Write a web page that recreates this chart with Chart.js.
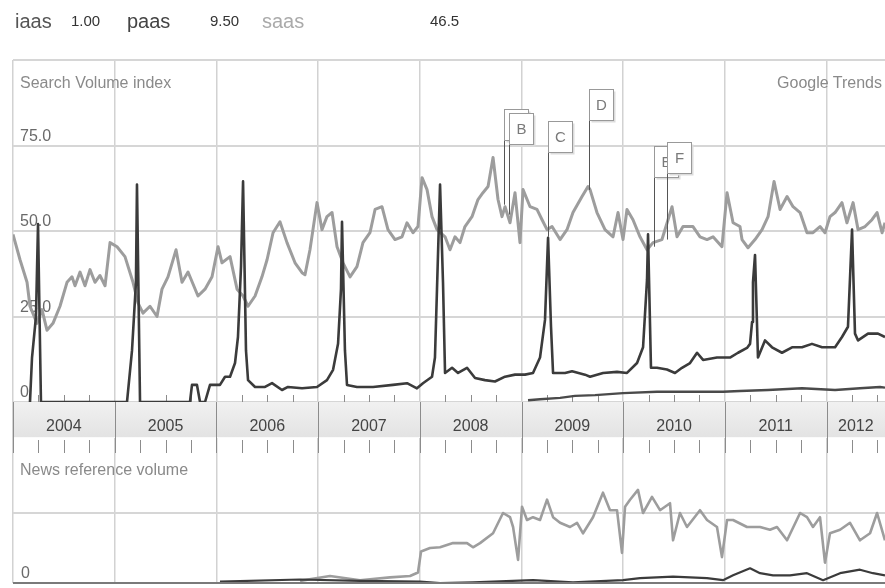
<!DOCTYPE html>
<html><head><meta charset="utf-8">
<script src="https://cdn.jsdelivr.net/npm/chart.js@4.4.1/dist/chart.umd.min.js"></script>
<style>
html,body{margin:0;padding:0;background:#fff;}
#wrap{position:relative;width:885px;height:588px;overflow:hidden;font-family:"Liberation Sans",Arial,sans-serif;}
#c{position:absolute;left:0;top:0;}
.t{position:absolute;white-space:nowrap;line-height:1;}
</style></head><body>
<div id="wrap">
<canvas id="c" width="885" height="588"></canvas>
<div id="hdr"></div>
<div class="t" style="left:20px;top:75px;font-size:16px;color:#8a8a8a">Search Volume index</div>
<div class="t" style="right:3px;top:75px;font-size:16px;color:#8a8a8a">Google Trends</div>
<div class="t" style="left:20px;top:462px;font-size:16px;color:#8a8a8a">News reference volume</div>
</div>
<script>
// ---------- DATA ----------
const headerTerms = ['iaas', 'paas', 'saas'];
const headerValues = ['1.00', '9.50', '46.5'];

const yearTicks = [2004, 2005, 2006, 2007, 2008, 2009, 2010, 2011, 2012];
const yearLabels = ['2004', '2005', '2006', '2007', '2008', '2009', '2010', '2011', '2012'];
const xMin = 2004.0, xMax = 2012.574;

const yTickValues = [0, 25, 50, 75];
const yTickLabels = ['0', '25.0', '50.0', '75.0'];
const newsTickValues = [0];
const newsTickLabels = ['0'];

const saasDates = [
 2004.000, 2004.069, 2004.138, 2004.167, 2004.236, 2004.285, 2004.334, 2004.393, 2004.462, 2004.531,
 2004.580, 2004.610, 2004.659, 2004.708, 2004.757, 2004.806, 2004.855, 2004.905, 2004.954, 2005.023,
 2005.101, 2005.180, 2005.229, 2005.278, 2005.347, 2005.416, 2005.465, 2005.524, 2005.603, 2005.662,
 2005.721, 2005.819, 2005.888, 2005.957, 2006.016, 2006.055, 2006.134, 2006.203, 2006.262, 2006.311,
 2006.380, 2006.448, 2006.498, 2006.557, 2006.625, 2006.694, 2006.773, 2006.842, 2006.871, 2006.920,
 2006.989, 2007.038, 2007.087, 2007.137, 2007.186, 2007.245, 2007.314, 2007.382, 2007.441, 2007.510,
 2007.560, 2007.628, 2007.687, 2007.756, 2007.825, 2007.874, 2007.933, 2007.982, 2008.022, 2008.071,
 2008.120, 2008.169, 2008.248, 2008.297, 2008.346, 2008.395, 2008.444, 2008.513, 2008.572, 2008.621,
 2008.671, 2008.720, 2008.769, 2008.808, 2008.838, 2008.887, 2008.936, 2008.985, 2009.015, 2009.084,
 2009.152, 2009.202, 2009.251, 2009.300, 2009.379, 2009.447, 2009.506, 2009.595, 2009.654, 2009.674,
 2009.742, 2009.821, 2009.900, 2009.949, 2009.998, 2010.037, 2010.096, 2010.165, 2010.234, 2010.293,
 2010.381, 2010.480, 2010.529, 2010.588, 2010.686, 2010.755, 2010.824, 2010.883, 2010.971, 2011.021,
 2011.080, 2011.148, 2011.168, 2011.227, 2011.296, 2011.365, 2011.424, 2011.483, 2011.542, 2011.611,
 2011.670, 2011.739, 2011.807, 2011.866, 2011.935, 2011.984, 2012.033, 2012.083, 2012.151, 2012.200,
 2012.260, 2012.309, 2012.378, 2012.446, 2012.496, 2012.545, 2012.574
];
const saasValues = [
 49, 41.6, 35, 28, 23, 27, 21, 23, 28, 35,
 36.6, 34, 38, 34, 38.7, 35, 37, 34, 46.6, 45.4,
 42.5, 35, 29, 26, 28, 25, 33, 36.6, 44.5, 35,
 38, 31, 33, 36.6, 45.4, 40.7, 42.5, 33, 31, 28,
 31, 36.6, 41.6, 49.5, 52.7, 46.6, 40.7, 37.8, 37.2, 44.5,
 58.3, 50.4, 54.2, 55.4, 45.4, 40.7, 36.6, 39.6, 46.6, 49.5,
 56.3, 57.1, 50.4, 47.5, 48.3, 52.4, 49.5, 51.3, 65.6, 62.1,
 54.2, 50.4, 48.3, 44.5, 48.3, 46.6, 51.3, 54.2, 59.2, 61.2,
 63, 71.5, 59.2, 54.2, 57.1, 52.4, 61.2, 46.6, 62.1, 57.1,
 56.3, 53.3, 50.4, 51.3, 47.5, 50.4, 55.4, 60.1, 63, 62.1,
 55.4, 50.4, 48.3, 55.4, 47.5, 56.3, 53.3, 48.3, 44.5, 46.6,
 47.5, 57.1, 48.3, 51.3, 51.3, 48.3, 47.5, 48.3, 45.4, 61.2,
 52.4, 51.3, 47.5, 45.1, 47.5, 50.4, 54.2, 64.5, 56.3, 60.1,
 57.1, 55.4, 49.5, 49.5, 51.3, 49.5, 54.2, 55.4, 58.3, 52.4,
 58.3, 50.4, 51.3, 53.3, 55.4, 49.5, 52.4
];

const paasDates = [
 2004.167, 2004.187, 2004.226, 2004.246, 2004.275, 2005.121, 2005.170, 2005.209, 2005.219, 2005.249,
 2005.740, 2005.760, 2005.809, 2005.839, 2005.888, 2005.937, 2006.035, 2006.085, 2006.134, 2006.183,
 2006.212, 2006.242, 2006.262, 2006.291, 2006.311, 2006.380, 2006.478, 2006.547, 2006.645, 2006.704,
 2006.842, 2006.989, 2007.087, 2007.147, 2007.196, 2007.225, 2007.235, 2007.264, 2007.284, 2007.382,
 2007.540, 2007.736, 2007.874, 2007.972, 2008.031, 2008.120, 2008.149, 2008.169, 2008.199, 2008.228,
 2008.248, 2008.317, 2008.376, 2008.464, 2008.543, 2008.641, 2008.739, 2008.838, 2008.936, 2009.034,
 2009.113, 2009.182, 2009.231, 2009.261, 2009.290, 2009.310, 2009.428, 2009.497, 2009.624, 2009.674,
 2009.802, 2009.939, 2010.037, 2010.136, 2010.195, 2010.234, 2010.244, 2010.273, 2010.332, 2010.430,
 2010.509, 2010.578, 2010.657, 2010.726, 2010.785, 2010.922, 2011.050, 2011.129, 2011.217, 2011.247,
 2011.267, 2011.276, 2011.296, 2011.325, 2011.394, 2011.463, 2011.561, 2011.660, 2011.758, 2011.856,
 2011.955, 2012.083, 2012.151, 2012.210, 2012.250, 2012.279, 2012.309, 2012.407, 2012.505, 2012.574
];
const paasValues = [
 0, 13, 25, 52, 0, 0, 15, 35, 63.6, 0,
 0, 5, 5, 0, 0, 5, 5, 7.4, 7.4, 11.4,
 19, 39.6, 64.5, 15, 6.4, 4.4, 4.4, 5.5, 3.5, 4.4,
 4, 4.4, 6.4, 9.4, 17, 33, 52.7, 15, 5, 4.4,
 4.4, 5, 5.5, 4, 5.5, 7.4, 13, 33, 63.6, 35,
 8.5, 10, 8.5, 10, 7, 6.4, 6, 7.4, 8, 8,
 8.5, 13, 24, 48, 22, 8.5, 8.5, 9, 8, 7.4,
 8.5, 8.8, 8.5, 11.4, 16, 35.7, 49, 10, 10, 9.5,
 8.5, 10, 11.4, 14.4, 12.3, 13, 13, 14.4, 15.8, 17,
 23.4, 35, 43, 13, 18, 16, 14.4, 16, 16, 17,
 16, 16, 19, 22, 50.4, 20, 18, 20, 20, 19
];

const iaasDates = [2009.064, 2009.182, 2009.379, 2009.526, 2009.723, 2009.998, 2010.332, 2010.657,
 2010.981, 2011.148, 2011.424, 2011.758, 2012.083, 2012.328, 2012.525, 2012.574];
const iaasValues = [0.5, 0.8, 1.2, 1.8, 2, 2.6, 3, 3, 3, 3.2, 3.5, 4, 3.5, 4, 4.4, 4.2];

const newsSaasDates = [
 2006.822, 2007.117, 2007.412, 2007.707, 2007.904, 2007.982, 2008.012, 2008.100, 2008.199, 2008.326,
 2008.464, 2008.523, 2008.592, 2008.720, 2008.818, 2008.887, 2008.917, 2008.966, 2009.005, 2009.054,
 2009.113, 2009.182, 2009.251, 2009.310, 2009.379, 2009.477, 2009.546, 2009.605, 2009.703, 2009.801,
 2009.870, 2009.939, 2009.988, 2010.018, 2010.067, 2010.145, 2010.195, 2010.283, 2010.362, 2010.460,
 2010.490, 2010.558, 2010.627, 2010.755, 2010.824, 2010.922, 2010.971, 2011.021, 2011.080, 2011.217,
 2011.345, 2011.443, 2011.512, 2011.611, 2011.739, 2011.807, 2011.866, 2011.935, 2011.984, 2012.033,
 2012.132, 2012.230, 2012.328, 2012.427, 2012.496, 2012.574
];
const newsSaasValues = [
 0.03, 0.1, 0.04, 0.08, 0.1, 0.15, 0.45, 0.5, 0.51, 0.57,
 0.57, 0.51, 0.57, 0.71, 1.0, 0.94, 0.8, 0.33, 1.09, 0.9,
 0.94, 0.9, 1.19, 0.94, 0.86, 0.8, 0.86, 0.71, 0.94, 1.29,
 1.04, 1.04, 0.43, 1.09, 1.19, 1.33, 1.0, 1.23, 1.04, 1.14,
 0.61, 1.0, 0.8, 1.04, 0.9, 0.8, 0.37, 0.9, 0.9, 0.8,
 0.8, 0.76, 0.8, 0.61, 1.0, 0.94, 0.8, 0.94, 0.29, 0.71,
 0.76, 0.86, 0.61, 0.71, 1.0, 0.61
];

const newsPaasDates = [2006.035, 2006.822, 2007.412, 2008.002, 2008.199, 2008.523, 2009.113, 2009.506,
 2009.998, 2010.165, 2010.490, 2010.824, 2010.981, 2011.080, 2011.247, 2011.345, 2011.473, 2011.640,
 2011.807, 2011.965, 2012.132, 2012.328, 2012.456, 2012.574];
const newsPaasValues = [0.02, 0.05, 0.03, 0.02, 0, 0.01, 0.04, 0.01, 0.04, 0.07, 0.09, 0.07, 0.04,
 0.11, 0.21, 0.14, 0.11, 0.11, 0.14, 0.04, 0.14, 0.19, 0.14, 0.11];

const flagLabels = ['A', 'B', 'C', 'D', 'E', 'F'];
const flagDates = [2008.828, 2008.877, 2009.260, 2009.664, 2010.303, 2010.430];
const flagValues = [57.7, 54.8, 48.3, 62.0, 45.4, 47.5];

// ---------- STYLE / LAYOUT ----------
const HEADER_LAYOUT = [
  {termX: 15, valX: 71, color: '#555'},
  {termX: 127, valX: 210, color: '#444'},
  {termX: 262, valX: 430, color: '#aaa'}
];
const FLAG_STALK = [65, 71, 85, 70, 70, 67];
const FLAG_BOX = {w: 24, h: 31};
const BAND_H = 35;
const FONT = '"Liberation Sans", Arial, sans-serif';

// header as real HTML text
const hdr = document.getElementById('hdr');
headerTerms.forEach((t, i) => {
  const a = document.createElement('div');
  a.className = 't'; a.textContent = t;
  a.style.cssText = `left:${HEADER_LAYOUT[i].termX}px;top:11px;font-size:20px;color:${HEADER_LAYOUT[i].color}`;
  hdr.appendChild(a);
  const b = document.createElement('div');
  b.className = 't'; b.textContent = headerValues[i];
  b.style.cssText = `left:${HEADER_LAYOUT[i].valX}px;top:13px;font-size:15px;color:#333`;
  hdr.appendChild(b);
});

const toXY = (xs, ys) => xs.map((x, i) => ({x: x, y: ys[i]}));

const decor = {
  id: 'decor',
  beforeDatasetsDraw(chart) {
    const {ctx, chartArea} = chart;
    const xs = chart.scales.x, yT = chart.scales.yTop, yB = chart.scales.yBand, yN = chart.scales.yNews;
    ctx.save();
    const bandTop = yB.top, bandBot = yB.top + BAND_H;
    const g = ctx.createLinearGradient(0, bandTop, 0, bandBot);
    g.addColorStop(0, '#f1f1f1'); g.addColorStop(1, '#e3e3e3');
    ctx.fillStyle = g;
    ctx.fillRect(chartArea.left, bandTop, chartArea.right - chartArea.left, bandBot - bandTop);
    ctx.strokeStyle = '#fafafa'; ctx.lineWidth = 1;
    ctx.beginPath(); ctx.moveTo(chartArea.left, bandBot + 0.5); ctx.lineTo(chartArea.right, bandBot + 0.5); ctx.stroke();
    // year separators in band
    ctx.strokeStyle = '#8c8c8c'; ctx.lineWidth = 1;
    yearTicks.forEach(v => {
      const px = Math.round(xs.getPixelForValue(v)) + 0.5;
      ctx.beginPath(); ctx.moveTo(px, bandTop); ctx.lineTo(px, yB.bottom); ctx.stroke();
    });
    // quarter ticks
    ctx.strokeStyle = '#8c8c8c';
    yearTicks.forEach(v => {
      [0.25, 0.5, 0.75].forEach(q => {
        if (v + q >= xMax) return;
        const px = Math.round(xs.getPixelForValue(v + q)) + 0.5;
        ctx.beginPath(); ctx.moveTo(px, bandBot + 3); ctx.lineTo(px, yB.bottom); ctx.stroke();
        ctx.beginPath(); ctx.moveTo(px, yT.bottom - 7); ctx.lineTo(px, yT.bottom); ctx.stroke();
      });
    });
    // year labels
    ctx.fillStyle = '#444'; ctx.font = '16px ' + FONT; ctx.textAlign = 'center'; ctx.textBaseline = 'alphabetic';
    yearTicks.forEach((v, i) => {
      const a = xs.getPixelForValue(v), b = xs.getPixelForValue(Math.min(v + 1, xMax));
      ctx.fillText(yearLabels[i], (a + b) / 2, bandTop + 29);
    });
    // y labels
    ctx.fillStyle = '#6a6a6a'; ctx.textAlign = 'left';
    yTickValues.forEach((v, i) => {
      ctx.fillText(yTickLabels[i], chartArea.left + 7, yT.getPixelForValue(v) - 5);
    });
    newsTickValues.forEach((v, i) => {
      ctx.fillText(newsTickLabels[i], chartArea.left + 8, yN.getPixelForValue(v) - 5);
    });
    ctx.restore();
  },
  afterDatasetsDraw(chart) {
    const {ctx, chartArea} = chart;
    const xs = chart.scales.x, yT = chart.scales.yTop, yN = chart.scales.yNews;
    ctx.save();
    // bottom border
    ctx.strokeStyle = '#7a7a7a'; ctx.lineWidth = 2;
    const yb = yN.getPixelForValue(0);
    ctx.beginPath(); ctx.moveTo(chartArea.left, yb); ctx.lineTo(chartArea.right, yb); ctx.stroke();
    // flags
    flagLabels.forEach((lab, i) => {
      const px = Math.round(xs.getPixelForValue(flagDates[i])) + 0.5;
      const py = yT.getPixelForValue(flagValues[i]);
      const boxBottom = Math.round(py - FLAG_STALK[i]) + 0.5;
      ctx.strokeStyle = '#555'; ctx.lineWidth = 1;
      ctx.beginPath(); ctx.moveTo(px, boxBottom); ctx.lineTo(px, py); ctx.stroke();
      const top = boxBottom - FLAG_BOX.h;
      ctx.fillStyle = '#dcdcdc';
      ctx.fillRect(px + 2, top + 2, FLAG_BOX.w, FLAG_BOX.h);
      ctx.fillStyle = '#fff';
      ctx.fillRect(px, top, FLAG_BOX.w, FLAG_BOX.h);
      ctx.strokeStyle = '#999';
      ctx.strokeRect(px, top, FLAG_BOX.w, FLAG_BOX.h);
      ctx.fillStyle = '#7a7a7a'; ctx.font = '15px ' + FONT; ctx.textAlign = 'center'; ctx.textBaseline = 'middle';
      ctx.fillText(lab, px + FLAG_BOX.w / 2, top + FLAG_BOX.h / 2 + 1);
    });
    ctx.restore();
  }
};

const hiddenTicks = {display: false};
new Chart(document.getElementById('c'), {
  type: 'line',
  data: {
    datasets: [
      {label: 'paas', data: toXY(paasDates, paasValues), yAxisID: 'yTop', borderColor: '#3b3b3b', borderWidth: 2.6},
      {label: 'iaas', data: toXY(iaasDates, iaasValues), yAxisID: 'yTop', borderColor: '#4a4a4a', borderWidth: 2.4},
      {label: 'saas', data: toXY(saasDates, saasValues), yAxisID: 'yTop', borderColor: '#9d9d9d', borderWidth: 3},
      {label: 'paas news', data: toXY(newsPaasDates, newsPaasValues), yAxisID: 'yNews', borderColor: '#3b3b3b', borderWidth: 2.2},
      {label: 'saas news', data: toXY(newsSaasDates, newsSaasValues), yAxisID: 'yNews', borderColor: '#9d9d9d', borderWidth: 2.6}
    ]
  },
  options: {
    responsive: false,
    animation: false,
    layout: {padding: {left: 13, top: 60, right: 0, bottom: 5}},
    plugins: {legend: {display: false}, tooltip: {enabled: false}},
    elements: {point: {radius: 0}, line: {tension: 0, borderJoinStyle: 'round'}},
    scales: {
      x: {
        type: 'linear', min: xMin, max: xMax,
        afterBuildTicks: s => { s.ticks = yearTicks.map(v => ({value: v})); },
        ticks: hiddenTicks,
        grid: {color: '#d2d2d2', lineWidth: 1.5, drawTicks: false},
        border: {display: false}
      },
      yTop: {
        type: 'linear', position: 'left', stack: 'v', stackWeight: 342, weight: 3,
        min: 0, max: 100,
        afterBuildTicks: s => { s.ticks = [0, 25, 50, 75, 100].map(v => ({value: v})); },
        ticks: hiddenTicks,
        grid: {color: '#d6d6d6', lineWidth: 2, drawTicks: false},
        border: {display: false}
      },
      yBand: {
        type: 'linear', position: 'left', stack: 'v', stackWeight: 51, weight: 2,
        min: 0, max: 1,
        ticks: hiddenTicks,
        grid: {display: false, drawTicks: false},
        border: {display: false}
      },
      yNews: {
        type: 'linear', position: 'left', stack: 'v', stackWeight: 130, weight: 1,
        min: 0, max: 1.857,
        afterBuildTicks: s => { s.ticks = [0, 1].map(v => ({value: v})); },
        ticks: hiddenTicks,
        grid: {color: c => (c.tick && c.tick.value === 1) ? '#d6d6d6' : 'rgba(0,0,0,0)', lineWidth: 2, drawTicks: false},
        border: {display: false}
      }
    }
  },
  plugins: [decor]
});
</script>
</body></html>
